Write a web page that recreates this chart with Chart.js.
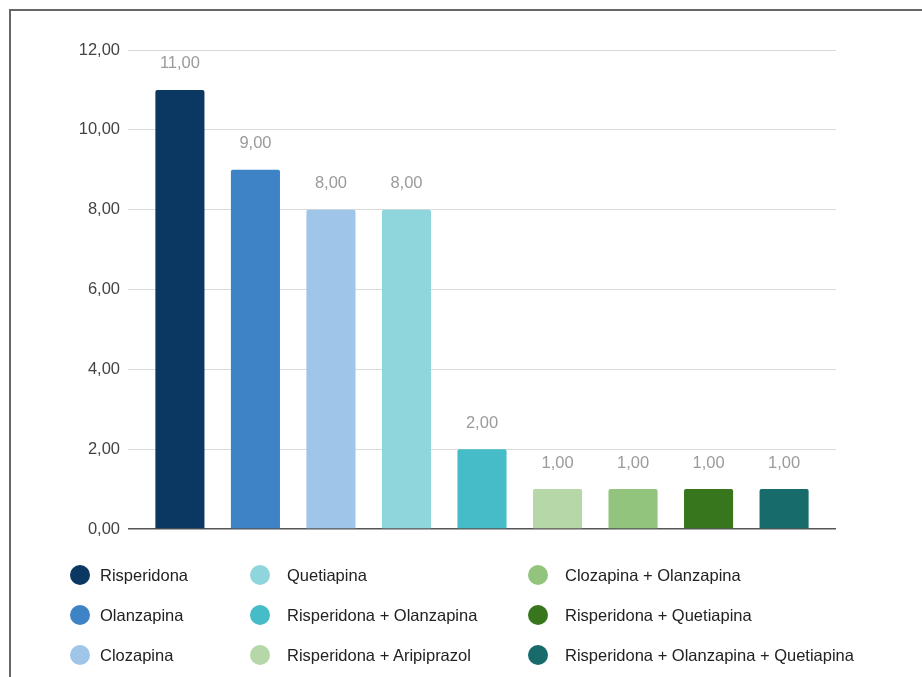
<!DOCTYPE html>
<html>
<head>
<meta charset="utf-8">
<script src="https://cdn.jsdelivr.net/npm/chart.js@4.4.1/dist/chart.umd.min.js"></script>
<style>
  html, body { margin: 0; padding: 0; background: #fff; }
  body { width: 922px; height: 677px; position: relative; overflow: hidden; font-family: Arial, "Liberation Sans", sans-serif; }
  .frame { position: absolute; left: 9px; top: 9px; width: 940px; height: 700px; border-left: 2px solid #666; border-top: 2px solid #666; }
  #chart { position: absolute; left: 0; top: 0; }
  .legend { position: absolute; left: 0; top: 0; }
  .legend-item { position: absolute; height: 20px; font-size: 16.5px; color: #222; white-space: nowrap; }
  .legend-item .dot { position: absolute; left: 0; top: 0; width: 20px; height: 20px; border-radius: 50%; }
  .legend-item .txt { position: absolute; top: 0; line-height: 20px; }
</style>
</head>
<body>
<div class="frame"></div>
<canvas id="chart" width="922" height="677"></canvas>
<div class="legend" id="legend"></div>
<script>
const seriesNames = [
  'Risperidona',
  'Olanzapina',
  'Clozapina',
  'Quetiapina',
  'Risperidona + Olanzapina',
  'Risperidona + Aripiprazol',
  'Clozapina + Olanzapina',
  'Risperidona + Quetiapina',
  'Risperidona + Olanzapina + Quetiapina'
];
const seriesValues = [11, 9, 8, 8, 2, 1, 1, 1, 1];
const seriesColors = [
  '#0B3763', '#3D83C6', '#9FC5E8', '#8FD6DC', '#45BCC8',
  '#B6D7A8', '#93C47D', '#38761D', '#176B6B'
];
const yTicks = [0, 2, 4, 6, 8, 10, 12];

const fmt = v => v.toFixed(2).replace('.', ',');

// value labels above each bar
const valueLabels = {
  id: 'valueLabels',
  afterDatasetsDraw(chart) {
    const ctx = chart.ctx;
    ctx.save();
    ctx.font = '16.5px Arial, "Liberation Sans", sans-serif';
    ctx.fillStyle = '#9a9a9a';
    ctx.textAlign = 'center';
    ctx.textBaseline = 'middle';
    chart.data.datasets.forEach((ds, i) => {
      const bar = chart.getDatasetMeta(i).data[0];
      ctx.fillText(fmt(ds.data[0]), bar.x, bar.y - 26);
    });
    ctx.restore();
  }
};

new Chart(document.getElementById('chart'), {
  type: 'bar',
  data: {
    labels: [''],
    datasets: seriesNames.map((name, i) => ({
      label: name,
      data: [seriesValues[i]],
      backgroundColor: seriesColors[i],
      borderRadius: 2,
      borderSkipped: 'bottom',
      categoryPercentage: 0.96,
      barPercentage: 0.65
    }))
  },
  options: {
    responsive: false,
    animation: false,
    layout: { padding: { left: 0, right: 86, top: 50, bottom: 148 } },
    scales: {
      x: { display: false },
      y: {
        min: 0,
        max: 12,
        afterFit: s => { s.width = 128; },
        afterBuildTicks: s => { s.ticks = yTicks.map(v => ({ value: v })); },
        border: { display: false },
        grid: {
          drawTicks: false,
          color: c => c.tick.value === 0 ? '#555' : '#d9d9d9',
          lineWidth: c => c.tick.value === 0 ? 1.5 : 1
        },
        ticks: {
          padding: 8,
          color: '#444',
          font: { size: 16.5, family: 'Arial, "Liberation Sans", sans-serif' },
          callback: v => fmt(v)
        }
      }
    },
    plugins: {
      legend: { display: false },
      tooltip: { enabled: false }
    }
  },
  plugins: [valueLabels]
});

// legend: three columns, filled top to bottom
const legend = document.getElementById('legend');
const colX = [70, 250, 528];
const textGap = [30, 37, 37];
const rowY = [575, 615, 655];
seriesNames.forEach((name, i) => {
  const col = Math.floor(i / 3);
  const item = document.createElement('div');
  item.className = 'legend-item';
  item.style.left = colX[col] + 'px';
  item.style.top = (rowY[i % 3] - 10) + 'px';
  item.innerHTML = '<span class="dot" style="background:' + seriesColors[i] + '"></span>' +
    '<span class="txt" style="left:' + textGap[col] + 'px">' + name + '</span>';
  legend.appendChild(item);
});
</script>
</body>
</html>
